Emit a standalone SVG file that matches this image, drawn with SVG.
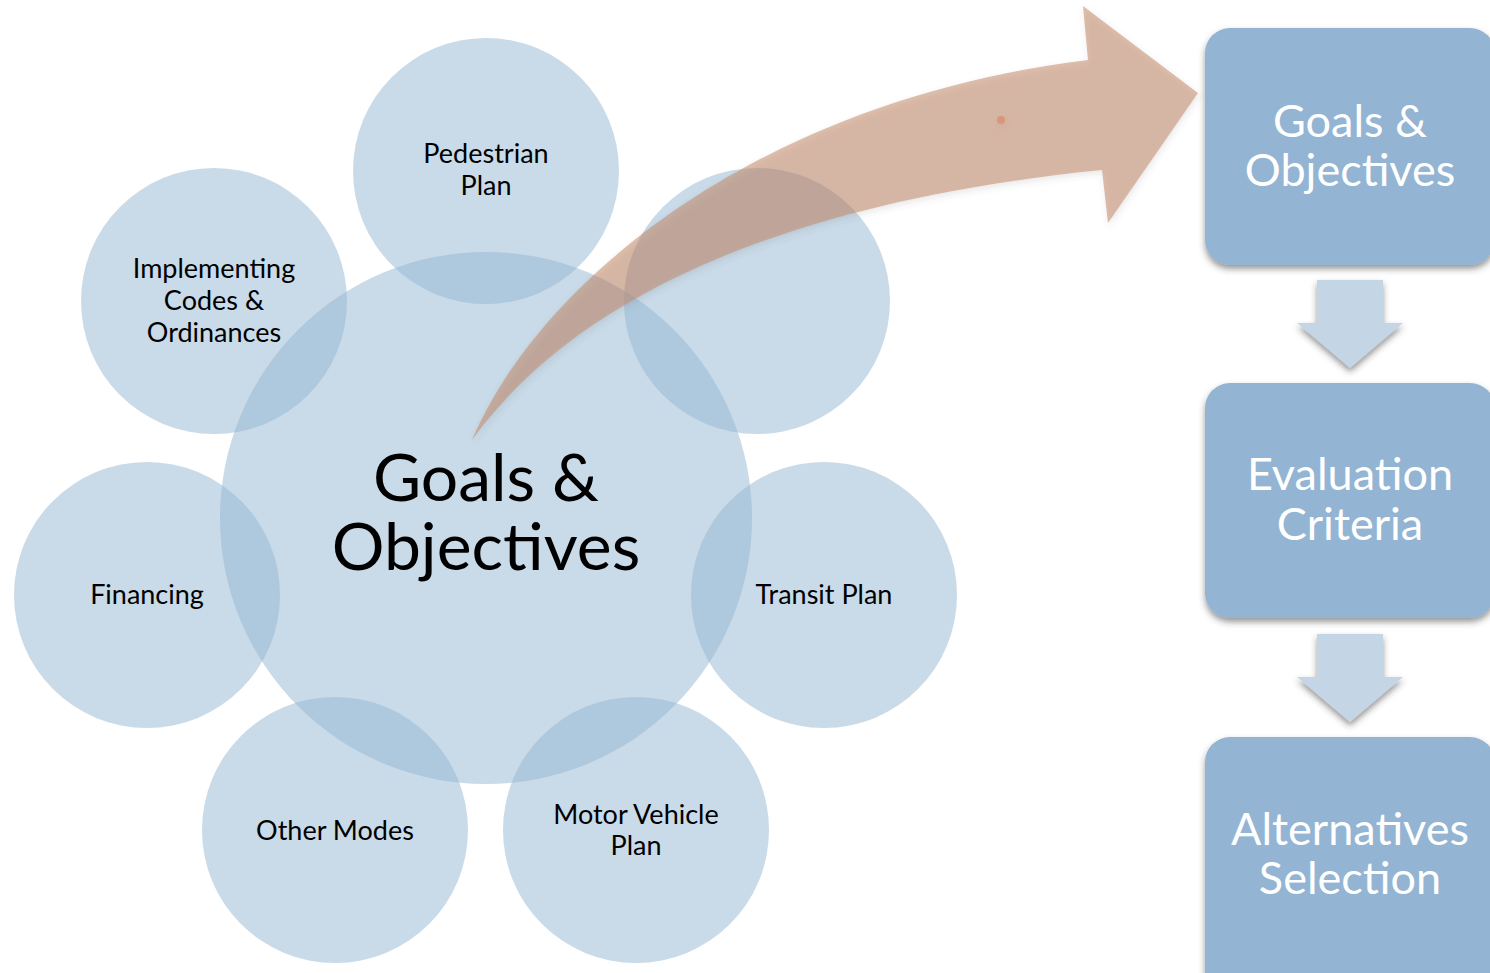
<svg xmlns="http://www.w3.org/2000/svg" width="1490" height="973" viewBox="0 0 1490 973">
<style>
  .c { fill: #93b6d2; fill-opacity: 0.5; }
  .lbl { font-family: Lato, "Liberation Sans", sans-serif; font-size: 27px; fill: #000; text-anchor: middle; }
  .big { font-family: Lato, "Liberation Sans", sans-serif; font-size: 66px; fill: #000; text-anchor: middle; }
  .box { fill: #93b5d3; }
  .bt { font-family: Lato, "Liberation Sans", sans-serif; font-size: 45px; fill: #fff; text-anchor: middle; }
  .dn { fill: #c4d5e5; }
</style>
<defs>
  <filter id="sh" x="-10%" y="-10%" width="120%" height="130%">
    <feDropShadow dx="0" dy="4" stdDeviation="3" flood-color="#333" flood-opacity="0.5"/>
  </filter>
  <filter id="ash" x="-10%" y="-10%" width="120%" height="130%">
    <feDropShadow dx="1" dy="3" stdDeviation="3" flood-color="#555" flood-opacity="0.25"/>
  </filter>
</defs>
<rect width="1490" height="973" fill="#fff"/>
<g id="circles">
  <g id="center"><circle class="c" cx="486" cy="518" r="266"/></g>
  <g id="pedestrian"><circle class="c" cx="486" cy="171" r="133"/></g>
  <g id="implementing"><circle class="c" cx="214" cy="301" r="133"/></g>
  <g id="upper-right"><circle class="c" cx="757" cy="301" r="133"/></g>
  <g id="financing"><circle class="c" cx="147" cy="595" r="133"/></g>
  <g id="transit"><circle class="c" cx="824" cy="595" r="133"/></g>
  <g id="other-modes"><circle class="c" cx="335" cy="830" r="133"/></g>
  <g id="motor-vehicle"><circle class="c" cx="636" cy="830" r="133"/></g>
</g>
<g id="labels">
  <text class="lbl" x="486" y="163">Pedestrian</text>
  <text class="lbl" x="486" y="195">Plan</text>
  <text class="lbl" x="214" y="278">Implementing</text>
  <text class="lbl" x="214" y="310">Codes &amp;</text>
  <text class="lbl" x="214" y="342">Ordinances</text>
  <text class="lbl" x="147" y="604">Financing</text>
  <text class="lbl" x="824" y="604">Transit Plan</text>
  <text class="lbl" x="335" y="840">Other Modes</text>
  <text class="lbl" x="636" y="824">Motor Vehicle</text>
  <text class="lbl" x="636" y="855">Plan</text>
  <text class="big" x="486" y="501">Goals &amp;</text>
  <text class="big" x="486" y="570">Objectives</text>
</g>
<g id="connectors">
  <g id="curved-arrow" filter="url(#ash)">
    <path d="M 472,440 C 540,280 760,100 1088,60 L 1083,6 L 1198,93 L 1108,223 L 1102,170 C 800,200 580,290 472,440 Z" fill="#bf8461" fill-opacity="0.52"/>
    <circle cx="1001" cy="120" r="4" fill="#d9967a"/>
  </g>
  <polygon class="dn" filter="url(#sh)" points="1317,280 1383,280 1383,323 1403,323 1350,368 1297,323 1317,323"/>
  <polygon class="dn" filter="url(#sh)" points="1317,634 1383,634 1383,677 1403,677 1350,722 1297,677 1317,677"/>
</g>
<g id="box-goals">
  <rect class="box" filter="url(#sh)" x="1205" y="28" width="290" height="237" rx="25"/>
  <text class="bt" x="1350" y="137">Goals &amp;</text>
  <text class="bt" x="1350" y="186">Objectives</text>
</g>
<g id="box-evaluation">
  <rect class="box" filter="url(#sh)" x="1205" y="383" width="290" height="235" rx="25"/>
  <text class="bt" x="1350" y="490">Evaluation</text>
  <text class="bt" x="1350" y="540">Criteria</text>
</g>
<g id="box-alternatives">
  <rect class="box" filter="url(#sh)" x="1205" y="737" width="290" height="260" rx="25"/>
  <text class="bt" x="1350" y="845">Alternatives</text>
  <text class="bt" x="1350" y="894">Selection</text>
</g>
</svg>
